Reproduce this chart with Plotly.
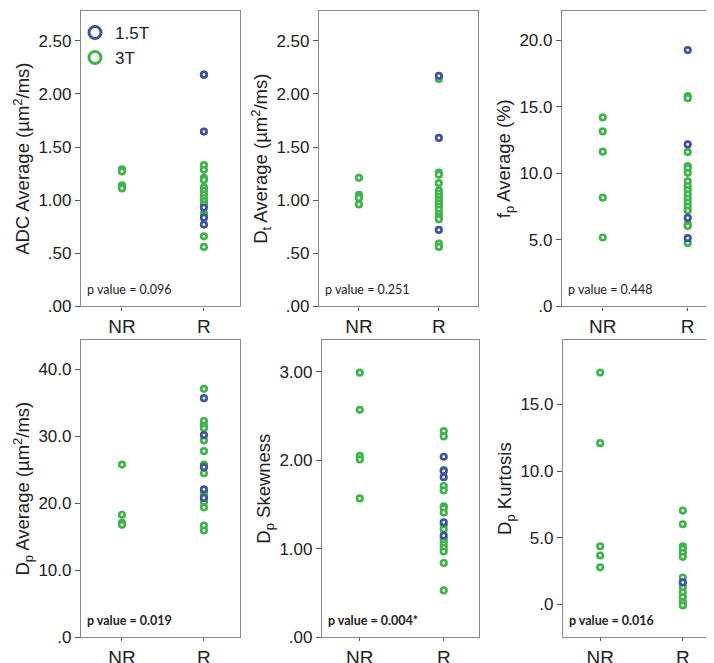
import plotly.graph_objects as go

W, H = 714, 663
GREEN = "#3db54a"
BLUE = "#3d52a3"

groups = ["NR", "R"]

# ---- data ----
adc_nr_3t = [1.29, 1.27, 1.14, 1.12, 1.11]
adc_r_3t = [2.18, 1.33, 1.285, 1.21, 1.19, 1.12, 1.09, 1.055, 1.02, 0.99, 0.96, 0.875, 0.855, 0.66, 0.56]
adc_r_15t = [2.18, 1.645, 0.93, 0.835, 0.77]

dt_nr_3t = [1.21, 1.05, 1.03, 1.02, 0.96]
dt_r_3t = [2.14, 1.26, 1.24, 1.16, 1.09, 1.06, 1.03, 1.0, 0.97, 0.94, 0.91, 0.87, 0.84, 0.82, 0.59, 0.56]
dt_r_15t = [2.17, 1.585, 0.72]

fp_nr_3t = [14.2, 13.15, 11.63, 8.17, 5.18]
fp_r_3t = [15.8, 15.65, 11.6, 10.55, 10.38, 10.04, 9.4, 9.03, 8.74, 8.42, 8.1, 7.8, 7.5, 7.2, 6.16, 6.04, 4.76]
fp_r_15t = [19.26, 12.17, 6.65, 5.13]

dp_nr_3t = [25.8, 18.3, 17.1, 16.95, 16.8]
dp_r_3t = [37.1, 32.3, 31.6, 31.2, 29.4, 27.8, 25.8, 24.5, 21.7, 21.5, 21.1, 20.2, 19.4, 16.7, 15.95]
dp_r_15t = [35.7, 30.2, 25.4, 22.1, 20.8]

sk_nr_3t = [2.99, 2.57, 2.05, 2.01, 1.57]
sk_r_3t = [2.33, 2.27, 1.89, 1.71, 1.66, 1.48, 1.46, 1.41, 1.27, 1.22, 1.12, 1.09, 1.05, 1.01, 0.97, 0.84, 0.53]
sk_r_15t = [2.04, 1.88, 1.81, 1.30, 1.15]

ku_nr_3t = [17.4, 12.09, 4.34, 3.65, 2.76]
ku_r_3t = [7.03, 6.0, 4.34, 4.15, 3.85, 3.55, 2.0, 1.26, 0.89, 0.52, 0.15, -0.1]
ku_r_15t = [1.63]

panels = [
    dict(nr=adc_nr_3t, r3=adc_r_3t, r15=adc_r_15t, rng=[0, 2.78],
         tv=[0, 0.5, 1.0, 1.5, 2.0, 2.5], tt=[".00", ".50", "1.00", "1.50", "2.00", "2.50"],
         title="ADC Average (µm<sup>2</sup>/ms)", p="p value = 0.096",
         box=(73, 232, 3, 303), xr=[-0.5, 1.44]),
    dict(nr=dt_nr_3t, r3=dt_r_3t, r15=dt_r_15t, rng=[0, 2.78],
         tv=[0, 0.5, 1.0, 1.5, 2.0, 2.5], tt=[".00", ".50", "1.00", "1.50", "2.00", "2.50"],
         title="D<sub>t</sub> Average (µm<sup>2</sup>/ms)", p="p value = 0.251",
         box=(311, 470, 3, 303), xr=[-0.5, 1.49]),
    dict(nr=fp_nr_3t, r3=fp_r_3t, r15=fp_r_15t, rng=[0, 22.2],
         tv=[0, 5, 10, 15, 20], tt=[".0", "5.0", "10.0", "15.0", "20.0"],
         title="f<sub>p</sub> Average (%)", p="p value = 0.448",
         box=(554, 712, 3, 303), xr=[-0.48, 1.38]),
    dict(nr=dp_nr_3t, r3=dp_r_3t, r15=dp_r_15t, rng=[0, 44.4],
         tv=[0, 10, 20, 30, 40], tt=[".0", "10.0", "20.0", "30.0", "40.0"],
         title="D<sub>p</sub> Average (µm<sup>2</sup>/ms)", p="<b>p value = 0.019</b>",
         box=(73, 232, 337, 639), xr=[-0.5, 1.44]),
    dict(nr=sk_nr_3t, r3=sk_r_3t, r15=sk_r_15t, rng=[0, 3.36],
         tv=[0, 1, 2, 3], tt=[".00", "1.00", "2.00", "3.00"],
         title="D<sub>p</sub> Skewness", p="<b>p value = 0.004*</b>",
         box=(314, 471, 337, 639), xr=[-0.45, 1.42]),
    dict(nr=ku_nr_3t, r3=ku_r_3t, r15=ku_r_15t, rng=[-2.5, 19.85],
         tv=[0, 5, 10, 15], tt=[".0", "5.0", "10.0", "15.0"],
         title="D<sub>p</sub> Kurtosis", p="<b>p value = 0.016</b>",
         box=(555, 712, 337, 639), xr=[-0.45, 1.45]),
]

fig = go.Figure()
layout = dict(
    width=W, height=H, margin=dict(l=0, r=0, t=0, b=0),
    paper_bgcolor="white", plot_bgcolor="white",
    font=dict(family="Liberation Sans, Arial", color="#222"),
    showlegend=True,
    legend=dict(x=67 / W, y=1 - 7 / H, xanchor="left", yanchor="top",
                bgcolor="rgba(0,0,0,0)", font=dict(size=17, color="#222"),
                tracegroupgap=0, itemwidth=30),
)
annotations = []

def mk(color):
    return dict(symbol="circle", size=5.5, color="white",
                line=dict(color=color, width=2.7))

for i, pnl in enumerate(panels):
    n = i + 1
    xa = "x" if n == 1 else f"x{n}"
    ya = "y" if n == 1 else f"y{n}"
    x0, x1, y0, y1 = pnl["box"]
    fig.add_trace(go.Scatter(x=["NR"] * len(pnl["nr"]), y=pnl["nr"], mode="markers",
                             marker=mk(GREEN), xaxis=xa, yaxis=ya, showlegend=False,
                             hoverinfo="y"))
    fig.add_trace(go.Scatter(x=["R"] * len(pnl["r3"]), y=pnl["r3"], mode="markers",
                             marker=mk(GREEN), xaxis=xa, yaxis=ya, showlegend=False,
                             hoverinfo="y"))
    fig.add_trace(go.Scatter(x=["R"] * len(pnl["r15"]), y=pnl["r15"], mode="markers",
                             marker=mk(BLUE), xaxis=xa, yaxis=ya, showlegend=False,
                             hoverinfo="y"))
    axcommon = dict(showgrid=False, zeroline=False, showline=True, mirror=True,
                    linecolor="#8a8a8a", linewidth=1.2, ticks="outside", ticklen=5,
                    tickcolor="#555", tickwidth=1)
    layout["xaxis" if n == 1 else f"xaxis{n}"] = dict(
        axcommon, domain=[x0 / W, x1 / W], anchor=ya, type="category",
        categoryorder="array", categoryarray=groups, range=pnl["xr"],
        ticklen=3, tickfont=dict(size=19, color="#222"))
    layout["yaxis" if n == 1 else f"yaxis{n}"] = dict(
        axcommon, domain=[1 - y1 / H, 1 - y0 / H], anchor=xa, range=pnl["rng"],
        tickvals=pnl["tv"], ticktext=pnl["tt"], tickfont=dict(size=17, color="#222"),
        title=dict(text=pnl["title"], font=dict(size=18.5, color="#222"), standoff=3))
    annotations.append(dict(
        x=(x0 + 4) / W, y=1 - (y1 - 17) / H, xref="paper", yref="paper",
        xanchor="left", yanchor="middle", text=pnl["p"], showarrow=False,
        font=dict(family="Lato, Liberation Sans", size=12.5, color="#222")))

# legend entries
fig.add_trace(go.Scatter(x=[None], y=[None], mode="markers", name="1.5T",
                         marker=dict(symbol="circle-open", size=12, color=BLUE,
                                     line=dict(width=3, color=BLUE))))
fig.add_trace(go.Scatter(x=[None], y=[None], mode="markers", name="3T",
                         marker=dict(symbol="circle-open", size=12, color=GREEN,
                                     line=dict(width=3, color=GREEN))))

layout["annotations"] = annotations
fig.update_layout(**layout)
fig.write_html("out.html")
